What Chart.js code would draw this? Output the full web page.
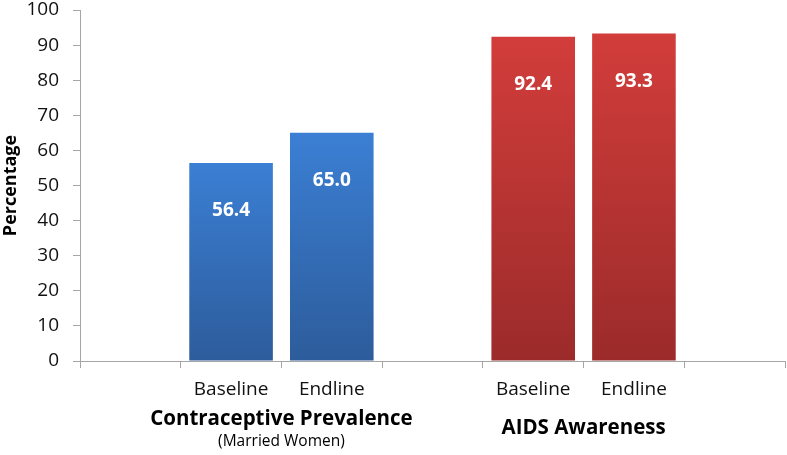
<!DOCTYPE html>
<html>
<head>
<meta charset="utf-8">
<script src="https://cdn.jsdelivr.net/npm/chart.js@4.4.1/dist/chart.umd.min.js"></script>
<style>
  html, body { margin: 0; padding: 0; background: #fff; }
  #wrap { width: 787px; height: 455px; }
</style>
</head>
<body>
<div id="wrap"><canvas id="myChart" width="787" height="455"></canvas></div>
<script>
"use strict";

// chart values
const categories = ["", "Baseline", "Endline", "", "Baseline", "Endline", ""];
const percentages = [null, 56.4, 65.0, null, 92.4, 93.3, null];
const barGroup = [null, 0, 0, null, 1, 1, null];
const groupNames = ["Contraceptive Prevalence", "AIDS Awareness"];
const groupNotes = ["(Married Women)", ""];
const yTicks = [0, 10, 20, 30, 40, 50, 60, 70, 80, 90, 100];

const FONT = "'Open Sans', sans-serif";
const gradients = [
  ["#3b7fd4", "#2d5c9b"],
  ["#d23d3b", "#9b2b2a"],
];

// gradient per bar, from its top down to the axis
const barColor = function (context) {
  const chart = context.chart;
  const area = chart.chartArea;
  const value = context.raw;
  const group = barGroup[context.dataIndex];
  if (!area || value == null || group == null) return "rgba(0,0,0,0)";
  const top = chart.scales.y.getPixelForValue(value);
  const g = chart.ctx.createLinearGradient(0, top, 0, area.bottom);
  g.addColorStop(0, gradients[group][0]);
  g.addColorStop(1, gradients[group][1]);
  return g;
};

// white value labels inside the bars
const valueLabels = {
  id: "valueLabels",
  afterDatasetsDraw(chart) {
    const ctx = chart.ctx;
    const meta = chart.getDatasetMeta(0);
    ctx.save();
    ctx.fillStyle = "#ffffff";
    ctx.font = "bold 19px " + FONT;
    ctx.textAlign = "center";
    ctx.textBaseline = "middle";
    meta.data.forEach(function (bar, i) {
      if (percentages[i] == null) return;
      ctx.fillText(percentages[i].toFixed(1), bar.x, bar.y + 48);
    });
    ctx.restore();
  },
};

// group names under the tick labels
const groupLabels = {
  id: "groupLabels",
  afterDraw(chart) {
    const ctx = chart.ctx;
    const x = chart.scales.x;
    ctx.save();
    ctx.fillStyle = "#000000";
    ctx.textAlign = "center";
    ctx.textBaseline = "middle";
    groupNames.forEach(function (name, gi) {
      const idx = [];
      barGroup.forEach(function (g, i) { if (g === gi) idx.push(i); });
      const cx = (x.getPixelForValue(idx[0]) + x.getPixelForValue(idx[idx.length - 1])) / 2;
      ctx.font = "bold 20.5px " + FONT;
      if (groupNotes[gi]) {
        ctx.fillText(name, cx, 419);
        ctx.font = "15.5px " + FONT;
        ctx.fillText(groupNotes[gi], cx, 442);
      } else {
        ctx.fillText(name, cx, 428);
      }
    });
    ctx.restore();
  },
};

const ctx = document.getElementById("myChart");

new Chart(ctx, {
  type: "bar",
  data: {
    labels: categories,
    datasets: [
      {
        data: percentages,
        backgroundColor: barColor,
        borderWidth: 0,
        barPercentage: 0.83,
        categoryPercentage: 1.0,
      },
    ],
  },
  options: {
    responsive: false,
    animation: false,
    layout: { padding: { top: 10, right: 2, left: 0, bottom: 0 } },
    plugins: {
      legend: { display: false },
      tooltip: { enabled: false },
    },
    scales: {
      x: {
        grid: {
          offset: true,
          drawOnChartArea: false,
          tickLength: 7,
          color: "#a6a6a6",
        },
        border: { color: "#a6a6a6" },
        ticks: {
          color: "#111111",
          font: { family: FONT, size: 19 },
          padding: 10,
          maxRotation: 0,
        },
        afterFit: function (scale) {
          scale.height = 94;
          scale.paddingLeft = 0;
          scale.paddingRight = 0;
        },
      },
      y: {
        min: 0,
        max: 100,
        afterBuildTicks: function (scale) {
          scale.ticks = yTicks.map(function (v) { return { value: v }; });
        },
        grid: {
          drawOnChartArea: false,
          tickLength: 7,
          color: "#a6a6a6",
        },
        border: { color: "#a6a6a6" },
        ticks: {
          color: "#111111",
          font: { family: FONT, size: 19 },
          padding: 14,
        },
        title: {
          display: true,
          text: "Percentage",
          color: "#000000",
          font: { family: FONT, size: 18, weight: "bold" },
          padding: { top: 0, bottom: 4 },
        },
        afterFit: function (scale) {
          scale.width = 80;
          scale.paddingTop = 0;
          scale.paddingBottom = 0;
        },
      },
    },
  },
  plugins: [valueLabels, groupLabels],
});
</script>
</body>
</html>
